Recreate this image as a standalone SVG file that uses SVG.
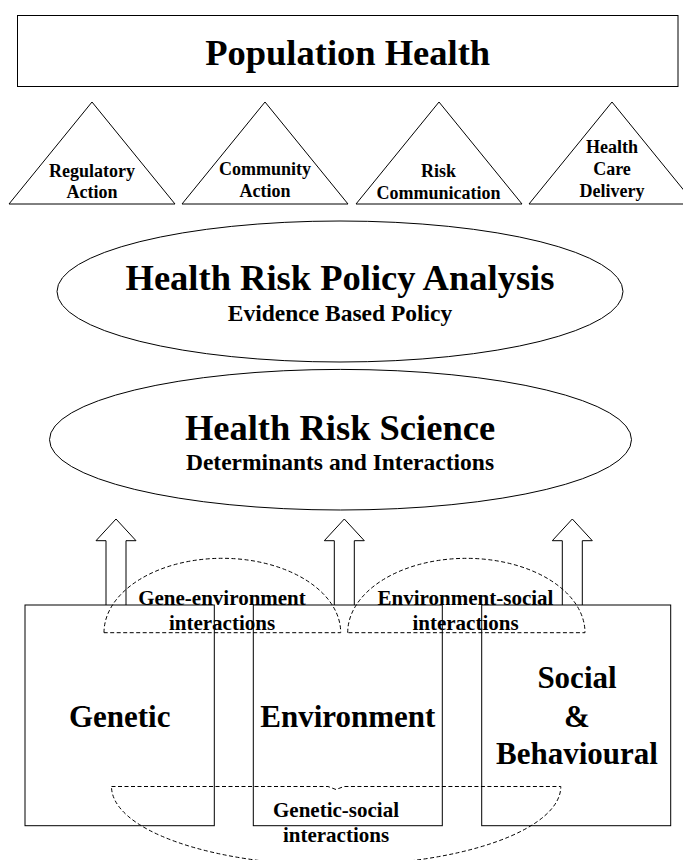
<svg xmlns="http://www.w3.org/2000/svg" width="683" height="860" viewBox="0 0 683 860">
<style>
.sh{fill:none;stroke:#000;stroke-width:1}
.ds{fill:none;stroke:#000;stroke-width:1;stroke-dasharray:4 2.5}
text{font-family:"Liberation Serif","Times New Roman",serif;font-weight:bold;fill:#000;text-anchor:middle}
.t1{font-size:36.5px}
.t2{font-size:23.5px}
.t3{font-size:18px}
.t4{font-size:31px}
.t5{font-size:21px}
</style>
<rect width="683" height="860" fill="#fff"/>
<g id="population-health">
<rect class="sh" x="17.5" y="15.5" width="660.5" height="71"/>
<text class="t1" x="347.7" y="65">Population Health</text>
</g>
<g id="regulatory-action">
<polygon class="sh" points="92,102 175,204 9,204"/>
<text class="t3" x="92" y="177">Regulatory</text>
<text class="t3" x="92" y="198">Action</text>
</g>
<g id="community-action">
<polygon class="sh" points="265,102 348,204 182,204"/>
<text class="t3" x="265" y="175">Community</text>
<text class="t3" x="265" y="197">Action</text>
</g>
<g id="risk-communication">
<polygon class="sh" points="439,102 522,204 356,204"/>
<text class="t3" x="438.5" y="177">Risk</text>
<text class="t3" x="438.5" y="199">Communication</text>
</g>
<g id="health-care-delivery">
<polygon class="sh" points="612,102 695,204 529,204"/>
<text class="t3" x="612" y="153">Health</text>
<text class="t3" x="612" y="175">Care</text>
<text class="t3" x="612" y="197">Delivery</text>
</g>
<g id="policy-analysis">
<ellipse class="sh" cx="340" cy="291.5" rx="283" ry="70.5"/>
<text class="t1" x="340" y="290">Health Risk Policy Analysis</text>
<text class="t2" x="340" y="320.5">Evidence Based Policy</text>
</g>
<g id="risk-science">
<ellipse class="sh" cx="340.5" cy="439.7" rx="291" ry="70.3"/>
<text class="t1" x="340" y="440">Health Risk Science</text>
<text class="t2" x="340" y="470">Determinants and Interactions</text>
</g>
<g id="connectors">
<path class="sh" d="M106 605V540.7H96L116 519L136 540.7H126V605"/>
<path class="sh" d="M334.3 605V540.7H324.3L344.3 519L364.3 540.7H354.3V605"/>
<path class="sh" d="M562.3 605V540.7H552.3L572.3 519L592.3 540.7H582.3V605"/>
</g>
<g id="genetic">
<rect class="sh" x="25" y="605" width="189.3" height="220.7"/>
<text class="t4" x="119.7" y="726.7">Genetic</text>
</g>
<g id="environment">
<rect class="sh" x="253.3" y="605" width="189" height="220.7"/>
<text class="t4" x="347.8" y="726.7">Environment</text>
</g>
<g id="social-behavioural">
<rect class="sh" x="481.7" y="605" width="189" height="220.7"/>
<text class="t4" x="577" y="688.3">Social</text>
<text class="t4" x="577" y="726.7">&amp;</text>
<text class="t4" x="577" y="764">Behavioural</text>
</g>
<g id="gene-environment">
<path class="ds" d="M104 632.7A118.35 74.4 0 0 1 340.7 632.7Z"/>
<text class="t5" x="222" y="605">Gene-environment</text>
<text class="t5" x="222" y="630">interactions</text>
</g>
<g id="environment-social">
<path class="ds" d="M347.7 632.7A118.65 74.4 0 0 1 585 632.7Z"/>
<text class="t5" x="465.5" y="605">Environment-social</text>
<text class="t5" x="465.5" y="630">interactions</text>
</g>
<g id="genetic-social">
<path class="ds" d="M111.5 786.5H328L336 789.5L344 786.5H560.8A224.65 78.8 0 0 1 111.5 786.5"/>
<text class="t5" x="336" y="817.3">Genetic-social</text>
<text class="t5" x="336" y="842.3">interactions</text>
</g>
</svg>
